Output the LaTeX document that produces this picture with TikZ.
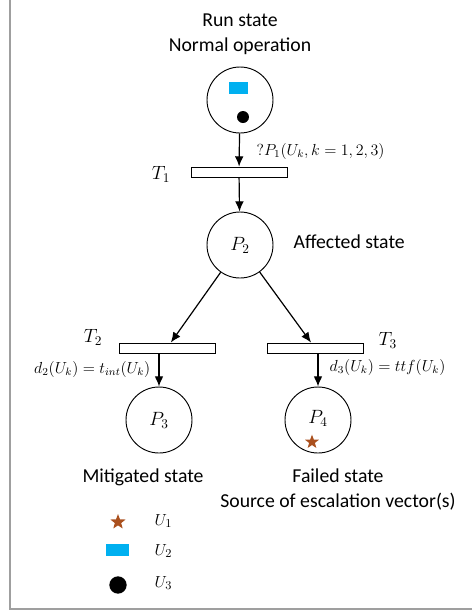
\documentclass[tikz,border=0pt]{standalone}
\usepackage{fontspec}
\setmainfont{Carlito}
\usetikzlibrary{shapes.geometric,arrows.meta}
\definecolor{ubrown}{RGB}{170,80,30}
\definecolor{ublue}{RGB}{0,176,240}
\tikzset{
  place/.style={circle,draw,line width=.7pt,minimum size=49.5pt,inner sep=0pt,font=\fontsize{14}{16}\selectfont},
  transbar/.style={draw,line width=.7pt,minimum width=72pt,minimum height=7.5pt,inner sep=0pt},
  arc/.style={-{Latex[length=2.7mm,width=2.3mm]},line width=.9pt},
  statetxt/.style={align=center,font=\fontsize{14.8}{18.75}\selectfont},
  translbl/.style={font=\fontsize{14}{16}\selectfont},
  firelbl/.style={font=\fontsize{12}{14}\selectfont},
  legendlbl/.style={font=\fontsize{13}{15}\selectfont},
  tokstar/.style={star,star points=5,star point ratio=2.4,fill=ubrown,inner sep=0pt,minimum size=11pt},
  tokbox/.style={fill=ublue,inner sep=0pt},
  tokdot/.style={circle,fill=black,inner sep=0pt},
  frameline/.style={gray!75,line width=1.1pt}
}
\begin{document}
\begin{tikzpicture}[x=0.75pt,y=-0.75pt]
  \useasboundingbox (0,0) rectangle (472,612);
  \draw[frameline] (10,0) -- (10,609) -- (472,609);

  % --- Places ---
  \node[place] (p1) at (240,100) {};
  \node[place] (p2) at (240,245) {$P_2$};
  \node[place] (p3) at (159,420) {$P_3$};
  \node[place] (p4) at (318,420) {};
  \node[translbl] (p4l) at (318,418) {$P_4$};

  % --- Tokens ---
  \node[tokbox,minimum width=14.3pt,minimum height=9pt] (u2a) at (238.5,88) {};
  \node[tokdot,minimum size=9pt] (u3a) at (243,117) {};
  \node[tokstar] (u1a) at (312,442) {};

  % --- Transitions ---
  \node[transbar] (t1) at (239,172) {};
  \node[transbar] (t2) at (167,348) {};
  \node[transbar] (t3) at (315,348) {};
  \node[translbl,anchor=east] (t1l) at (175,174) {$T_1$};
  \node[translbl,anchor=east] (t2l) at (107,337) {$T_2$};
  \node[translbl,anchor=west] (t3l) at (374,340) {$T_3$};

  % --- Arcs ---
  \draw[arc] (p1) -- (t1);
  \draw[arc] (t1) -- (p2);
  \draw[arc] (p2) -- (t2);
  \draw[arc] (p2) -- (t3);
  \draw[arc] (t2.south -| p3) -- (p3);
  \draw[arc] (t3.south -| p4) -- (p4);

  % --- Firing labels ---
  \node[firelbl,anchor=west,font=\fontsize{11.5}{14}\selectfont] (f1) at (252,151) {$?P_1(U_{k},k=1,2,3)$};
  \node[firelbl,anchor=east] (f2) at (155,369) {$d_2(U_k)=t_{int}(U_k)$};
  \node[firelbl,anchor=west] (f3) at (325,367) {$d_3(U_k)=ttf(U_k)$};

  % --- State texts ---
  \node[statetxt] (s1) at (240,34) {Run state\\Normal operation};
  \node[statetxt,anchor=west] (s2) at (289,242) {Affected state};
  \node[statetxt] (s3) at (143,477) {Mitigated state};
  \node[statetxt] (s4) at (338,489.5) {Failed state\\Source of escalation vector(s)};

  % --- Legend ---
  \node[tokstar,minimum size=12pt] (l1) at (118,522) {};
  \node[tokbox,minimum width=17pt,minimum height=9pt] (l2) at (117.5,550) {};
  \node[tokdot,minimum size=13pt] (l3) at (118,585) {};
  \node[legendlbl,anchor=west] (l1t) at (150,521) {$U_1$};
  \node[legendlbl,anchor=west] (l2t) at (150,551) {$U_2$};
  \node[legendlbl,anchor=west] (l3t) at (150,583) {$U_3$};
\end{tikzpicture}
\end{document}
